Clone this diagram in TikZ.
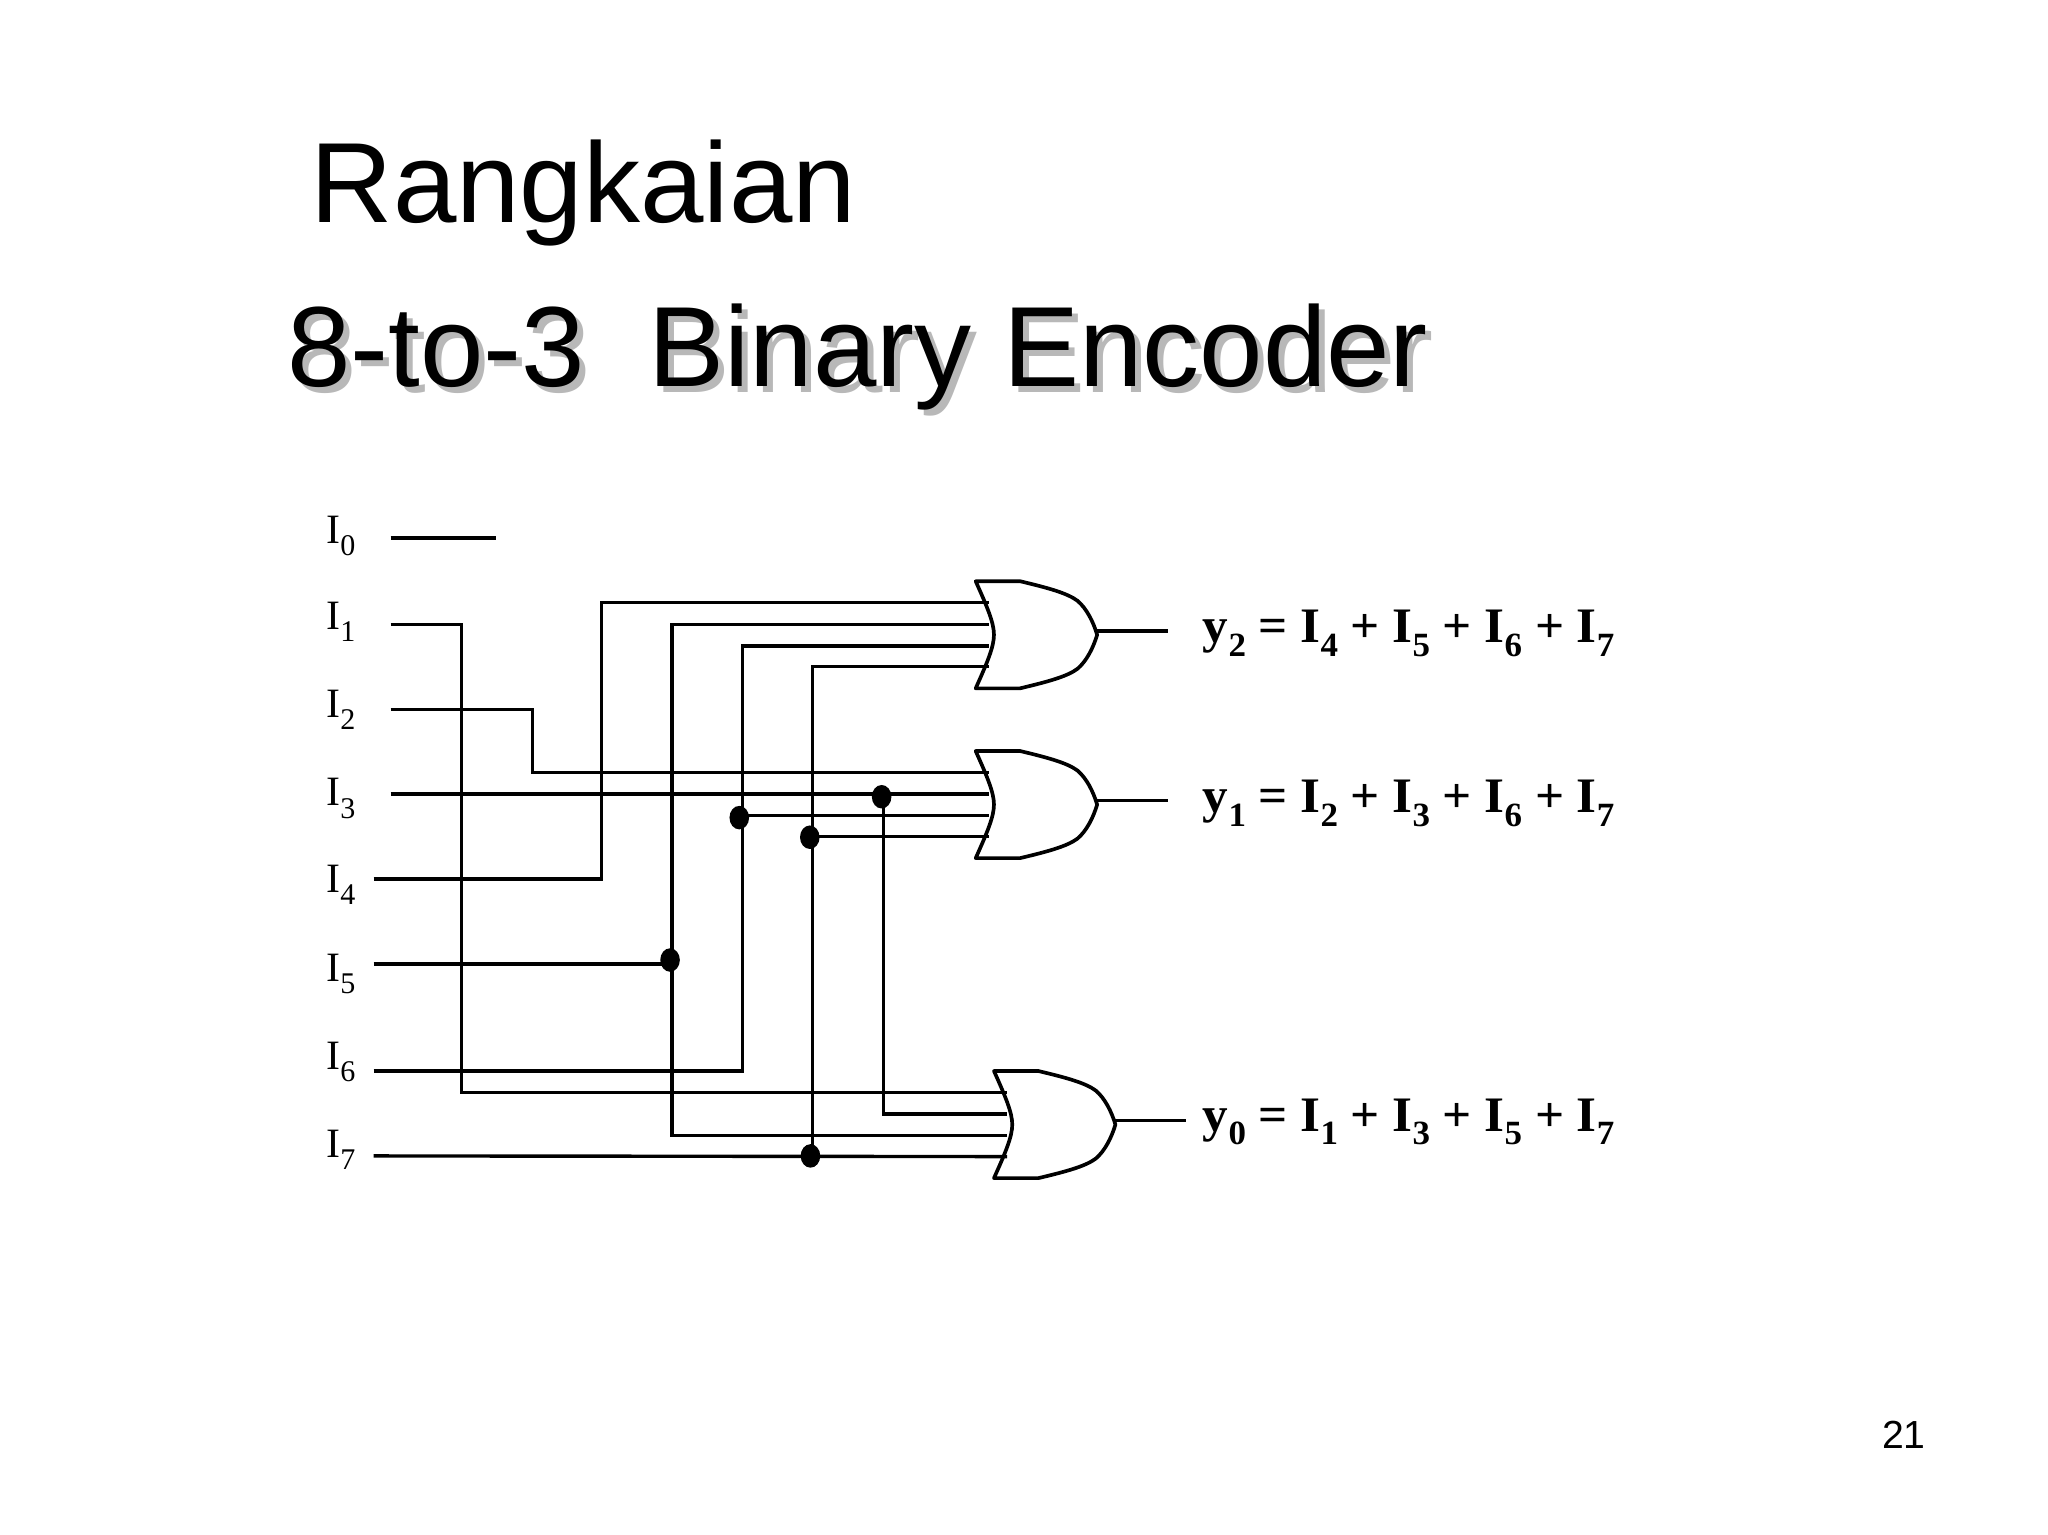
\documentclass[tikz,border=0pt]{standalone}
\usepackage{fontspec}
\setmainfont{Liberation Serif}
\newfontfamily\titlefont{Liberation Sans}
\usetikzlibrary{shapes.geometric}
\newcommand{\inlbl}[2]{\fontsize{32}{36}\selectfont #1\raisebox{-9.3pt}{\fontsize{23}{24}\selectfont #2}}
\newcommand{\eqsym}[2]{#1\raisebox{-10.5pt}{\fontsize{26}{28}\selectfont #2}}
\tikzset{
  x=1pt,y=-1pt,
  wire/.style={line width=2.6pt,line join=miter,black},
  junction/.style={ellipse,fill=black,draw=none,inner sep=0pt,minimum width=15pt,minimum height=18pt},
  inlabel/.style={anchor=base west,inner sep=0pt,outer sep=0pt},
  eqlabel/.style={anchor=base west,inner sep=0pt,outer sep=0pt,font=\bfseries\fontsize{38}{42}\selectfont,xscale=1.03},
  titletext/.style={anchor=base west,inner sep=0pt,outer sep=0pt,font=\titlefont\fontsize{87.3}{100}\selectfont},
  orgate/.pic={
    \draw[wire,line width=2.8pt,line join=round]
      (0,0) -- (34,0) .. controls (55,5) and (70,9) .. (78,15)
      .. controls (85,21) and (90,31) .. (93,41)
      .. controls (90,51) and (85,61) .. (78,67)
      .. controls (70,73) and (55,77) .. (34,82)
      -- (0,82) .. controls (9,62) and (14,50) .. (14,41)
      .. controls (14,32) and (9,20) .. (0,0) -- cycle;
    \coordinate (-a) at (10,16.5);
    \coordinate (-b) at (10,33);
    \coordinate (-c) at (10,49.5);
    \coordinate (-d) at (10,65.5);
    \coordinate (-out) at (93,38);
  }
}
\begin{document}
\begin{tikzpicture}
\useasboundingbox (0,0) rectangle (1568,1174.5);
% titles
\node[titletext] (t1) at (238,170.5) {Rangkaian};
\node[titletext,text=black!28] (t2s) at (224.5,300.5) {8-to-3\hspace{0.556em}Binary Encoder};
\node[titletext] (t2) at (220,296) {8-to-3\hspace{0.556em}Binary Encoder};
% page number
\node[anchor=base east,inner sep=0pt,font=\titlefont\fontsize{30}{32}\selectfont] (pg) at (1474.5,1109) {21};
% input labels
\node[inlabel] (l0) at (250,416) {\inlbl{I}{0}};
\node[inlabel] (l1) at (250,482) {\inlbl{I}{1}};
\node[inlabel] (l2) at (250,549.5) {\inlbl{I}{2}};
\node[inlabel] (l3) at (250,617) {\inlbl{I}{3}};
\node[inlabel] (l4) at (250,683.5) {\inlbl{I}{4}};
\node[inlabel] (l5) at (250,751.5) {\inlbl{I}{5}};
\node[inlabel] (l6) at (250,819) {\inlbl{I}{6}};
\node[inlabel] (l7) at (250,886) {\inlbl{I}{7}};
% wire starts
\coordinate (w0) at (299,412);
\coordinate (w0e) at (380,412);
\coordinate (w1) at (299,478);
\coordinate (w2) at (299,543);
\coordinate (w3) at (299,608);
\coordinate (w4) at (286,673);
\coordinate (w5) at (286,738);
\coordinate (w6) at (286,820);
\coordinate (w7) at (286,885);
% gates
\pic (g2) at (747,445) {orgate};
\pic (g1) at (747,575) {orgate};
\pic (g0) at (761,820) {orgate};
% junctions
\node[junction] (j5) at (513,735) {};
\node[junction] (j6) at (566,626) {};
\node[junction] (j7a) at (620,641) {};
\node[junction] (j3) at (675,610) {};
\node[junction] (j7b) at (620.5,885) {};
% vertical runs
\coordinate (v1) at (353.5,0);
\coordinate (v2) at (407.5,0);
\coordinate (v4) at (460.5,0);
\coordinate (v5) at (514.5,0);
\coordinate (v6) at (568.5,0);
\coordinate (v7) at (622,0);
\coordinate (v3) at (676.5,0);
% wires
\draw[wire] (w0) -- (w0e);
\draw[wire] (w1) -- (w1 -| v1) -- (g0-a -| v1) -- (g0-a);
\draw[wire] (w2) -- (w2 -| v2) -- (g1-a -| v2) -- (g1-a);
\draw[wire] (w3) -- (g1-b);
\draw[wire] (w4) -- (w4 -| v4) -- (g2-a -| v4) -- (g2-a);
\draw[wire] (w5) -- (w5 -| j5);
\draw[wire] (g2-b) -- (g2-b -| v5) -- (g0-c -| v5) -- (g0-c);
\draw[wire] (w6) -- (w6 -| v6) -- (g2-c -| v6) -- (g2-c);
\draw[wire] (g1-c -| j6) -- (g1-c);
\draw[wire] (w7) -- (g0-d);
\draw[wire] (j7b -| v7) -- (g2-d -| v7) -- (g2-d);
\draw[wire] (g1-d -| j7a) -- (g1-d);
\draw[wire] (j3 -| v3) -- (g0-b -| v3) -- (g0-b);
% outputs
\coordinate (o2) at (894,483);
\coordinate (o1) at (894,613);
\coordinate (o0) at (908,858);
\draw[wire] (g2-out) -- (o2);
\draw[wire] (g1-out) -- (o1);
\draw[wire] (g0-out) -- (o0);
% equations
\node[eqlabel] (e2) at (921,492) {\eqsym{y}{2} = \eqsym{I}{4} + \eqsym{I}{5} + \eqsym{I}{6} + \eqsym{I}{7}};
\node[eqlabel] (e1) at (921,622) {\eqsym{y}{1} = \eqsym{I}{2} + \eqsym{I}{3} + \eqsym{I}{6} + \eqsym{I}{7}};
\node[eqlabel] (e0) at (921,866) {\eqsym{y}{0} = \eqsym{I}{1} + \eqsym{I}{3} + \eqsym{I}{5} + \eqsym{I}{7}};
\end{tikzpicture}
\end{document}
